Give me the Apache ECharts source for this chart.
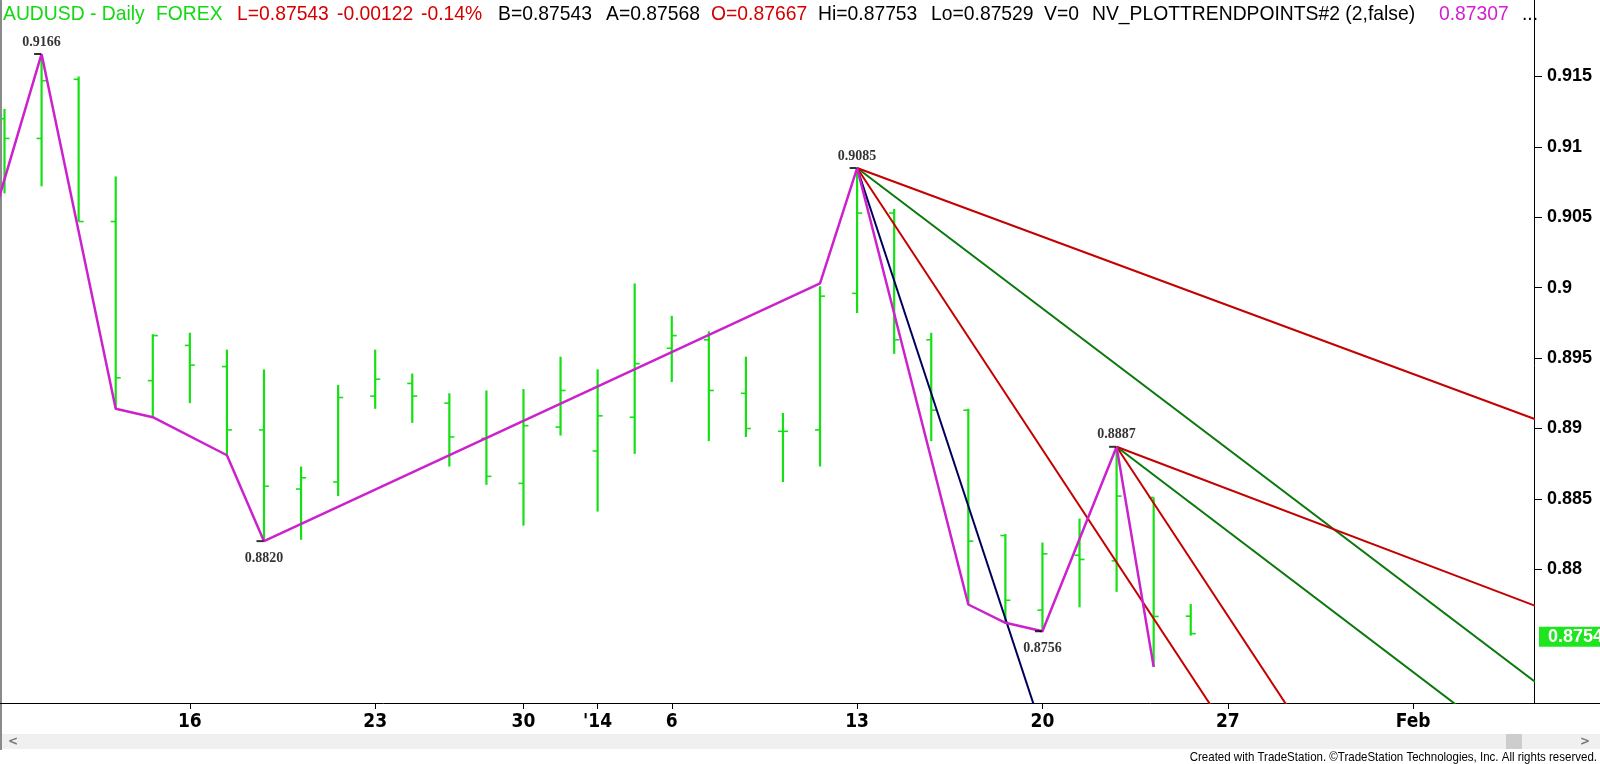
<!DOCTYPE html>
<html><head><meta charset="utf-8">
<script src="https://cdn.jsdelivr.net/npm/echarts@6/dist/echarts.min.js"></script>
<style>html,body{margin:0;padding:0;background:#fff;}#c{width:1600px;height:764px;}</style>
</head><body><div id="c"></div>
<script>
// ---- trading-day calendar (x positions come from the index in this list) ----
const days = ['2013-12-06','2013-12-09','2013-12-10','2013-12-11','2013-12-12','2013-12-13','2013-12-16','2013-12-17','2013-12-18','2013-12-19','2013-12-20','2013-12-23','2013-12-24','2013-12-26','2013-12-27','2013-12-30','2013-12-31','2014-01-02','2014-01-03','2014-01-06','2014-01-07','2014-01-08','2014-01-09','2014-01-10','2014-01-13','2014-01-14','2014-01-15','2014-01-16','2014-01-17','2014-01-20','2014-01-21','2014-01-22','2014-01-23','2014-01-24','2014-01-27','2014-01-28','2014-01-29','2014-01-30','2014-01-31','2014-02-03','2014-02-04','2014-02-05','2014-02-06','2014-02-07','2014-02-10'];

// ---- daily OHLC bars ----
const barDates = ['2013-12-09','2013-12-10','2013-12-11','2013-12-12','2013-12-13','2013-12-16','2013-12-17','2013-12-18','2013-12-19','2013-12-20','2013-12-23','2013-12-24','2013-12-26','2013-12-27','2013-12-30','2013-12-31','2014-01-02','2014-01-03','2014-01-06','2014-01-07','2014-01-08','2014-01-09','2014-01-10','2014-01-13','2014-01-14','2014-01-15','2014-01-16','2014-01-17','2014-01-20','2014-01-21','2014-01-22','2014-01-23','2014-01-24'];
const opens  = [0.9120,0.9106,0.9148,0.9047,0.8934,0.8959,0.8944,0.8899,0.8857,0.8862,0.8923,0.8932,0.8918,0.8893,0.8861,0.8901,0.8884,0.8908,0.8957,0.8963,0.8925,0.8898,0.8899,0.8996,0.9053,0.8963,0.8913,0.8824,0.8771,0.8810,0.8806,0.8851,0.87667];
const highs  = [0.9127,0.9166,0.9150,0.9079,0.8967,0.8968,0.8956,0.8942,0.8873,0.8931,0.8956,0.8939,0.8925,0.8927,0.8928,0.8951,0.8942,0.9003,0.8980,0.8969,0.8951,0.8911,0.9001,0.9085,0.9056,0.8968,0.8914,0.8825,0.8819,0.8836,0.8887,0.8851,0.87753];
const lows   = [0.9067,0.9072,0.9047,0.8914,0.8908,0.8918,0.8881,0.8820,0.8821,0.8852,0.8914,0.8904,0.8873,0.8860,0.8831,0.8895,0.8841,0.8882,0.8933,0.8891,0.8894,0.8862,0.8873,0.8982,0.8953,0.8891,0.8775,0.8762,0.8756,0.8773,0.8784,0.87307,0.87529];
const closes = [0.9106,0.9147,0.9047,0.8936,0.8966,0.8945,0.8899,0.8859,0.8865,0.8922,0.8935,0.8923,0.8894,0.8866,0.8902,0.8927,0.8909,0.8946,0.8966,0.8927,0.8900,0.8898,0.8994,0.9053,0.8963,0.8913,0.8820,0.8778,0.8811,0.8807,0.8852,0.87665,0.87543];

// ---- NV_PLOTTRENDPOINTS zigzag ----
const trendDates = ['2013-12-06','2013-12-10','2013-12-12','2013-12-13','2013-12-17','2013-12-18','2014-01-10','2014-01-13','2014-01-16','2014-01-17','2014-01-20','2014-01-22','2014-01-23'];
const trendVals  = [0.8988,0.9166,0.8914,0.8908,0.8881,0.8820,0.9003,0.9085,0.8775,0.8762,0.8756,0.8887,0.87307];

// ---- labelled pivots ----
const pivotDates = ['2013-12-10','2013-12-18','2014-01-13','2014-01-20','2014-01-22'];
const pivotVals  = [0.9166,0.8820,0.9085,0.8756,0.8887];
const pivotSide  = ['top','bottom','top','bottom','top'];

// ---- fan trend lines (start point, end point) ----
const fanFromDates = ['2014-01-13','2014-01-13','2014-01-13','2014-01-13','2014-01-22','2014-01-22','2014-01-22'];
const fanFromVals  = [0.9085,0.9085,0.9085,0.9085,0.8887,0.8887,0.8887];
const fanToDates   = ['2014-01-20','2014-01-27','2014-02-10','2014-02-10','2014-01-29','2014-02-05','2014-02-10'];
const fanToVals    = [0.8685,0.8685,0.8686,0.8890,0.8687,0.8687,0.8757];
const fanKinds     = ['navy','red','green','red','red','green','red'];

// ---- axis ticks ----
const tickDates  = ['2013-12-16','2013-12-23','2013-12-30','2014-01-02','2014-01-06','2014-01-13','2014-01-20','2014-01-27','2014-02-03'];
const tickLabels = ['16','23','30',"'14",'6','13','20','27','Feb'];
const yTicks = [0.88,0.885,0.89,0.895,0.9,0.905,0.91,0.915];
const lastPrice = 0.87543;

// ---- header ----
const headerTexts  = ['AUDUSD - Daily','FOREX','L=0.87543','-0.00122','-0.14%','B=0.87543','A=0.87568','O=0.87667','Hi=0.87753','Lo=0.87529','V=0','NV_PLOTTRENDPOINTS#2 (2,false)','0.87307','...'];
const headerColors = ['g','g','r','r','r','k','k','r','k','k','k','k','m','k'];

// =====================================================================
const idx = d => days.indexOf(d);
const COL = {g:'#12d912', r:'#d40000', k:'#000000', m:'#d21ed2', navy:'#00005a', red:'#c40000', green:'#0a780a'};
const headerX = [3,156,237,337,421,498,606,711,818,931,1044,1092,1439,1522];

const barData = barDates.map((d,i)=>[idx(d), opens[i], highs[i], lows[i], closes[i]]);
const trendData = trendDates.map((d,i)=>[idx(d), trendVals[i]]);
const pivotData = pivotDates.map((d,i)=>({value:[idx(d), pivotVals[i]],
  label:{position:pivotSide[i], offset: pivotSide[i]==='top' ? [4,4] : [4,1]}}));

const fanSeries = fanFromDates.map((d,i)=>({
  type:'line', data:[[idx(d), fanFromVals[i]],[idx(fanToDates[i]), fanToVals[i]]],
  symbol:'none', clip:true, silent:true, z:3,
  lineStyle:{color:COL[fanKinds[i]], width:2}
}));

const chart = echarts.init(document.getElementById('c'), null, {renderer:'canvas'});
const option = {
  animation:false,
  backgroundColor:'#ffffff',
  grid:{left:0, right:66, top:28, height:675},
  xAxis:{
    type:'value', min:0.8786, max:42.26,
    splitLine:{show:false},
    axisLine:{show:true, onZero:false, lineStyle:{color:'#000', width:1}},
    axisTick:{show:true, customValues:tickDates.map(idx), length:6, lineStyle:{color:'#000'}},
    axisLabel:{customValues:tickDates.map(idx), formatter:v=>tickLabels[tickDates.map(idx).indexOf(Math.round(v))]||'',
      color:'#000', fontWeight:'bold', fontSize:19, fontFamily:'"Liberation Sans Narrow","DejaVu Sans Condensed","Liberation Sans",sans-serif', margin:10}
  },
  yAxis:{
    type:'value', position:'right', min:0.870504, max:0.918445, scale:true,
    splitLine:{show:false},
    axisLine:{show:true, lineStyle:{color:'#000', width:1}},
    axisTick:{show:true, customValues:yTicks, length:8, lineStyle:{color:'#000'}},
    axisLabel:{customValues:yTicks, formatter:v=>String(+(+v).toFixed(3)),
      color:'#000', fontWeight:'bold', fontSize:18, fontFamily:'"Liberation Sans",Arial,sans-serif', margin:13}
  },
  series:[
    {
      type:'custom', data:barData, clip:true, z:2,
      encode:{x:0, y:[1,2,3,4]},
      renderItem:function(params, api){
        const hi = api.coord([api.value(0), api.value(2)]);
        const lo = api.coord([api.value(0), api.value(3)]);
        const o  = api.coord([api.value(0), api.value(1)]);
        const c  = api.coord([api.value(0), api.value(4)]);
        const col = '#14e014';
        return {type:'group', children:[
          {type:'line', shape:{x1:hi[0], y1:hi[1], x2:lo[0], y2:lo[1]}, style:{stroke:col, lineWidth:2.2}},
          {type:'line', shape:{x1:o[0]-5, y1:o[1], x2:o[0], y2:o[1]}, style:{stroke:col, lineWidth:1.6}},
          {type:'line', shape:{x1:c[0], y1:c[1], x2:c[0]+5, y2:c[1]}, style:{stroke:col, lineWidth:1.6}}
        ]};
      }
    },
    ...fanSeries,
    {
      type:'line', data:trendData, symbol:'none', clip:true, z:4, silent:true,
      lineStyle:{color:'#cc22cc', width:2.5}
    },
    {
      type:'scatter', data:pivotData, z:6, silent:true,
      symbol:'rect', symbolSize:[7,2], symbolOffset:[-4,0],
      itemStyle:{color:'#000'},
      label:{show:true, formatter:p=>p.value[1].toFixed(4), distance:8,
        color:'#000', fontWeight:'bold', fontSize:14, fontFamily:'"Liberation Serif","Times New Roman",serif'}
    }
  ]
};
chart.setOption(option);

// ---- decorations positioned with the chart's own scales ----
const yLast = chart.convertToPixel({yAxisIndex:0}, lastPrice);
const font = '21px "Liberation Sans", Arial, sans-serif';
const graphics = headerTexts.map((t,i)=>({
  type:'text', x:headerX[i], y:14, scaleX:0.92, silent:true,
  style:{text:t, fill:COL[headerColors[i]], font:font, verticalAlign:'middle', align:'left'}
}));
graphics.push(
  {type:'line', shape:{x1:1, y1:0, x2:1, y2:750}, style:{stroke:'#8a8a8a', lineWidth:2}, silent:true},
  {type:'line', shape:{x1:1534.5, y1:0, x2:1534.5, y2:28}, style:{stroke:'#000', lineWidth:1}, silent:true},
  {type:'line', shape:{x1:1534, y1:703.5, x2:1600, y2:703.5}, style:{stroke:'#000', lineWidth:1}, silent:true},
  {type:'rect', shape:{x:1539, y:yLast-7, width:61, height:20}, style:{fill:'#1ee61e'}, silent:true},
  {type:'text', x:1548, y:yLast+3, silent:true, style:{text:lastPrice.toFixed(5), fill:'#fff', font:'bold 18px "Liberation Sans", Arial, sans-serif', verticalAlign:'middle'}},
  {type:'rect', shape:{x:2, y:734, width:1598, height:15}, style:{fill:'#f0f0f0'}, silent:true},
  {type:'rect', shape:{x:1506, y:734, width:16, height:15}, style:{fill:'#cdcdcd'}, silent:true},
  {type:'text', x:8, y:741.5, silent:true, style:{text:'<', fill:'#777', font:'bold 12px "DejaVu Sans", sans-serif', verticalAlign:'middle'}},
  {type:'text', x:1580, y:741.5, silent:true, style:{text:'>', fill:'#777', font:'bold 12px "DejaVu Sans", sans-serif', verticalAlign:'middle'}},
  {type:'text', x:1597, y:757, scaleX:0.885, silent:true, style:{text:'Created with TradeStation. \u00A9TradeStation Technologies, Inc. All rights reserved.', fill:'#000', font:'13px "Liberation Sans",sans-serif', align:'right', verticalAlign:'middle'}}
);
chart.setOption({graphic:graphics});
</script>
</body></html>
